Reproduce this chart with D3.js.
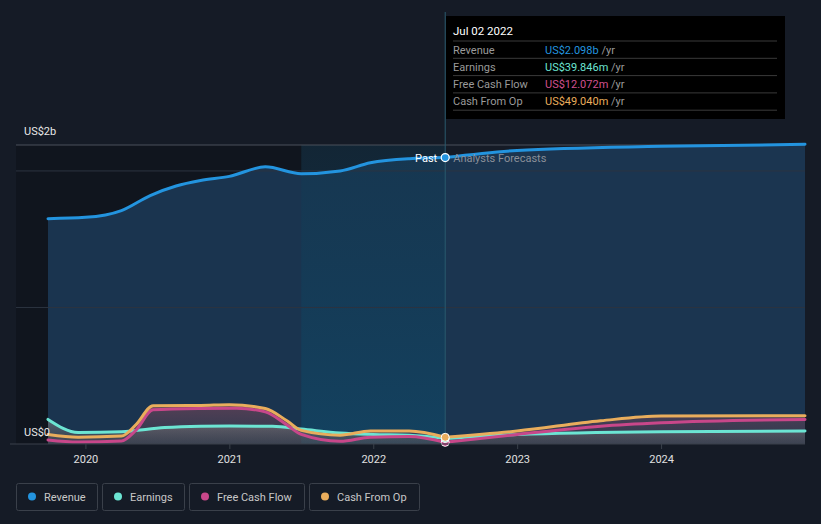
<!DOCTYPE html>
<html><head><meta charset="utf-8">
<script src="https://cdn.jsdelivr.net/npm/d3@7/dist/d3.min.js"></script>
<style>
body{margin:0;background:#151b26;font-family:Roboto,"Noto Sans",sans-serif;}
svg{display:block;}
</style></head><body>
<svg id="c" width="821" height="524"></svg>
<script>
// Data (values in US$ billions, x in decimal years)
const revenue = [[2019.74,1.65],[2020.0,1.66],[2020.25,1.71],[2020.45,1.82],[2020.63,1.89],[2020.8,1.93],[2021.0,1.96],[2021.25,2.03],[2021.5,1.98],[2021.77,2.0],[2021.98,2.06],[2022.25,2.09],[2022.5,2.098],[2023.0,2.15],[2024.0,2.18],[2025.0,2.195]];
const earnings = [[2019.74,0.18],[2019.95,0.085],[2020.25,0.09],[2020.55,0.12],[2020.8,0.13],[2021.0,0.132],[2021.3,0.13],[2021.5,0.11],[2021.77,0.08],[2022.0,0.07],[2022.25,0.065],[2022.5,0.0398],[2023.0,0.07],[2024.0,0.09],[2025.0,0.095]];
const fcf = [[2019.74,0.03],[2019.95,0.015],[2020.25,0.022],[2020.35,0.1],[2020.47,0.25],[2020.8,0.26],[2021.05,0.262],[2021.25,0.235],[2021.4,0.14],[2021.5,0.07],[2021.77,0.02],[2021.98,0.05],[2022.25,0.055],[2022.5,0.012],[2023.0,0.07],[2023.58,0.13],[2024.0,0.155],[2025.0,0.18]];
const cfo = [[2019.74,0.07],[2019.95,0.05],[2020.25,0.058],[2020.35,0.14],[2020.47,0.28],[2020.8,0.282],[2021.0,0.288],[2021.25,0.26],[2021.4,0.17],[2021.5,0.1],[2021.77,0.065],[2021.98,0.095],[2022.25,0.095],[2022.5,0.049],[2023.0,0.095],[2023.58,0.17],[2024.0,0.205],[2025.0,0.207]];
const xTicks = [2020,2021,2022,2023,2024];
const tooltipRows = [
  {label:"Revenue", value:"US$2.098b", color:"#2394df"},
  {label:"Earnings", value:"US$39.846m", color:"#6ce5d3"},
  {label:"Free Cash Flow", value:"US$12.072m", color:"#d0508e"},
  {label:"Cash From Op", value:"US$49.040m", color:"#e9ad5c"}
];
const legendItems = [
  {label:"Revenue", color:"#2394df"},
  {label:"Earnings", color:"#6ce5d3"},
  {label:"Free Cash Flow", color:"#c8478a"},
  {label:"Cash From Op", color:"#e9ad5c"}
];
const tooltipDate = "Jul 02 2022";
const nowX = 2022.5, bandStart = 2021.5;

const svg = d3.select("#c");
const x = d3.scaleLinear().domain([2019.74, 2025.0]).range([48, 805]);
const y = d3.scaleLinear().domain([0, 2.19]).range([444, 145]);
const curve = d3.curveMonotoneX;

const defs = svg.append("defs");
const g1 = defs.append("linearGradient").attr("id","gray").attr("x1",0).attr("y1",0).attr("x2",0).attr("y2",1);
g1.append("stop").attr("offset","0%").attr("stop-color","#8a8a8a").attr("stop-opacity",0.55);
g1.append("stop").attr("offset","100%").attr("stop-color","#555").attr("stop-opacity",0.35);
const g2 = defs.append("linearGradient").attr("id","red").attr("x1",0).attr("y1",0).attr("x2",0).attr("y2",1);
g2.append("stop").attr("offset","0%").attr("stop-color","#a8505e").attr("stop-opacity",0.7);
g2.append("stop").attr("offset","100%").attr("stop-color","#6a4650").attr("stop-opacity",0.4);
const g3 = defs.append("linearGradient").attr("id","band").attr("x1",0).attr("y1",0).attr("x2",0).attr("y2",1);
g3.append("stop").attr("offset","0%").attr("stop-color","#0e3a52").attr("stop-opacity",0.35);
g3.append("stop").attr("offset","100%").attr("stop-color","#0e4a6a").attr("stop-opacity",0.6);

// past region darkening
svg.append("rect").attr("x",16).attr("y",y(2.19)).attr("width",x(bandStart)-16).attr("height",y(0)-y(2.19)).attr("fill","#10151e");

// revenue area
svg.append("path").datum(revenue)
  .attr("d", d3.area().x(d=>x(d[0])).y0(y(0)).y1(d=>y(d[1])).curve(curve))
  .attr("fill","#1c3a58").attr("fill-opacity",0.85);

// highlight band
svg.append("rect").attr("x",x(bandStart)).attr("y",y(2.19)).attr("width",x(nowX)-x(bandStart)).attr("height",y(0)-y(2.19)).attr("fill","url(#band)");

// gridlines
[2.19, 2.0, 1.0].forEach((v,i)=>{
  svg.append("line").attr("x1",16).attr("x2",805).attr("y1",y(v)).attr("y2",y(v))
    .attr("stroke", i===0 ? "#4a505a" : "#2c3440").attr("stroke-width",1);
});

// now divider
svg.append("line").attr("x1",x(nowX)).attr("x2",x(nowX)).attr("y1",12).attr("y2",y(0)).attr("stroke","#2a5a6e").attr("stroke-width",1);

// cash areas
svg.append("path").datum(cfo)
  .attr("d", d3.area().x(d=>x(d[0])).y0(y(0)).y1(d=>y(d[1])).curve(curve))
  .attr("fill","url(#red)").attr("fill-opacity",0.6);
svg.append("path").datum(earnings)
  .attr("d", d3.area().x(d=>x(d[0])).y0(y(0)).y1(d=>y(d[1])).curve(curve))
  .attr("fill","url(#gray)");

const line = d3.line().x(d=>x(d[0])).y(d=>y(d[1])).curve(curve);
function drawLine(data, color, w){
  const past = data.filter(d=>d[0]<=nowX), fut = data.filter(d=>d[0]>=nowX);
  svg.append("path").datum(past).attr("d",line).attr("fill","none").attr("stroke",color).attr("stroke-width",w).attr("stroke-linecap","round");
  svg.append("path").datum(fut).attr("d",line).attr("fill","none").attr("stroke",color).attr("stroke-width",w).attr("stroke-linecap","round");
}
drawLine(earnings, "#6ce5d3", 3);
drawLine(fcf, "#c8478a", 3);
drawLine(cfo, "#e9ad5c", 3);
drawLine(revenue, "#2394df", 3);

// now markers
[[fcf,"#c8478a"],[earnings,"#6ce5d3"],[cfo,"#e9ad5c"]].forEach(([d,c])=>{
  const p = d.find(v=>v[0]===nowX);
  svg.append("circle").attr("cx",x(nowX)).attr("cy",y(p[1])).attr("r",4).attr("fill",c).attr("stroke","#fff").attr("stroke-width",1);
});
const rp = revenue.find(v=>v[0]===nowX);
svg.append("circle").attr("cx",x(nowX)).attr("cy",y(rp[1])).attr("r",4).attr("fill","#2394df").attr("stroke","#fff").attr("stroke-width",1.2);

svg.append("text").attr("x",x(nowX)-8).attr("y",y(rp[1])+4).attr("text-anchor","end").attr("fill","#fff").attr("font-size",11).text("Past");
svg.append("text").attr("x",x(nowX)+8).attr("y",y(rp[1])+4).attr("fill","#8a8f98").attr("font-size",11).text("Analysts Forecasts");

// x axis
svg.append("line").attr("x1",10).attr("x2",805).attr("y1",y(0)).attr("y2",y(0)).attr("stroke","#3a404a").attr("stroke-width",1);
const xa = svg.append("g").attr("transform",`translate(0,${y(0)})`)
  .call(d3.axisBottom(x).tickValues(xTicks).tickFormat(d3.format("d")).tickSize(5).tickPadding(6));
xa.select(".domain").remove();
xa.selectAll("line").attr("stroke","#3a404a");
xa.selectAll("text").attr("fill","#e0e0e0").attr("font-size",11).attr("font-family","Roboto,sans-serif");

// y labels
svg.append("text").attr("x",24).attr("y",135).attr("fill","#e8e8e8").attr("font-size",11).text("US$2b");
svg.append("text").attr("x",24).attr("y",436).attr("fill","#e8e8e8").attr("font-size",11).text("US$0");

// tooltip
const tt = svg.append("g");
tt.append("rect").attr("x",446).attr("y",16).attr("width",339).attr("height",103).attr("fill","#000");
tt.append("text").attr("x",453).attr("y",35).attr("fill","#fff").attr("font-size",11.5).text(tooltipDate);
tooltipRows.forEach((r,i)=>{
  const yy = 41 + i*17.3;
  tt.append("line").attr("x1",453).attr("x2",777).attr("y1",yy).attr("y2",yy).attr("stroke","#3a3a3a");
  tt.append("text").attr("x",453).attr("y",yy+12.5).attr("fill","#9a9a9a").attr("font-size",11).text(r.label);
  const t = tt.append("text").attr("x",545).attr("y",yy+12.5).attr("font-size",11);
  t.append("tspan").attr("fill",r.color).text(r.value);
  t.append("tspan").attr("fill","#9a9a9a").text(" /yr");
});
tt.append("line").attr("x1",453).attr("x2",777).attr("y1",41+4*17.3).attr("y2",41+4*17.3).attr("stroke","#3a3a3a");

// legend
let lx = 16;
const widths = [81, 82, 115, 110];
legendItems.forEach((it,i)=>{
  const g = svg.append("g").attr("transform",`translate(${lx},483)`);
  g.append("rect").attr("x",0.5).attr("y",0.5).attr("width",widths[i]).attr("height",27).attr("rx",2).attr("fill","none").attr("stroke","#3a404a");
  g.append("circle").attr("cx",16).attr("cy",13.5).attr("r",4).attr("fill",it.color);
  g.append("text").attr("x",28).attr("y",17.5).attr("fill","#c8c8c8").attr("font-size",11).text(it.label);
  lx += widths[i] + 5;
});
</script>
</body></html>
